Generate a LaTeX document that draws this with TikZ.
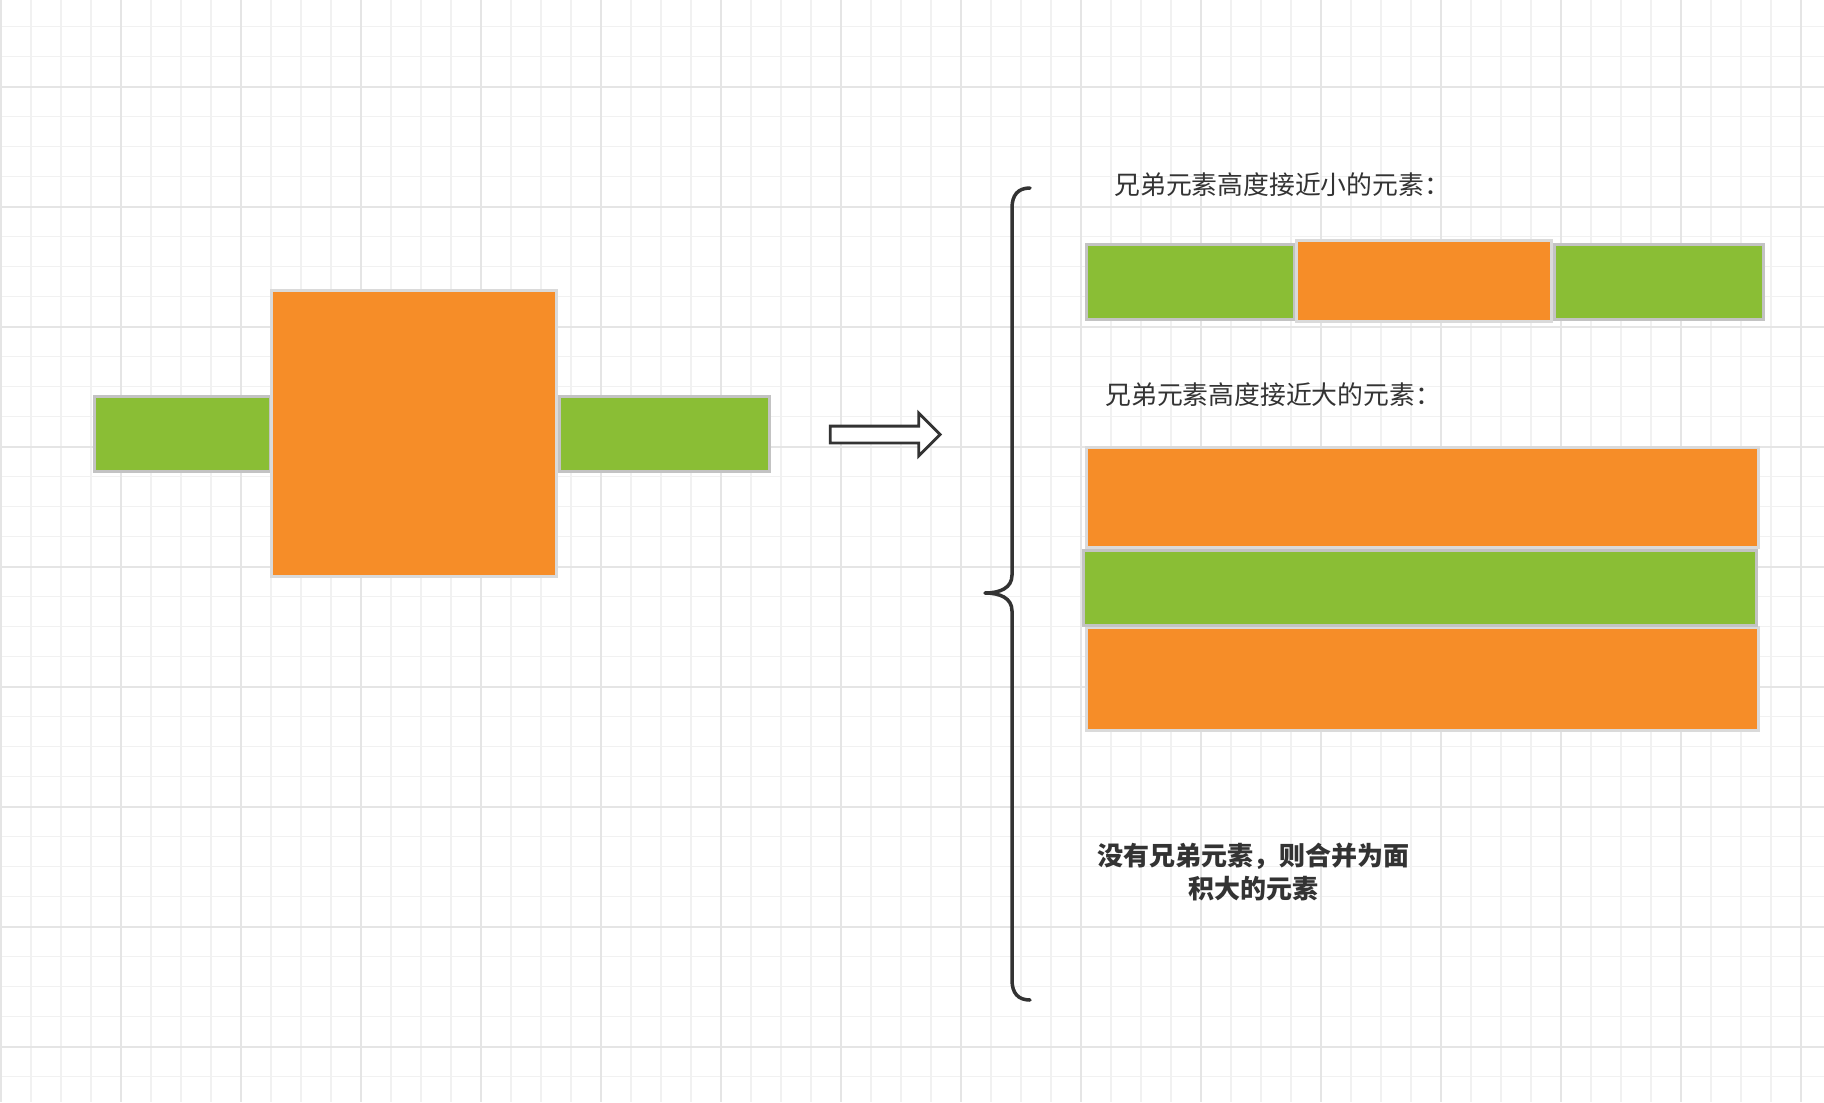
\documentclass[tikz,border=0pt]{standalone}
\usepackage{fontspec}
\usepackage{xcolor}
\usepackage{tikz}
\usetikzlibrary{shapes.arrows}
\newfontfamily\cjk{Noto Sans CJK SC}
\definecolor{gridsoft}{HTML}{F1F1F1}
\definecolor{gridmajor}{HTML}{E5E5E5}
\definecolor{leafgreen}{HTML}{8ABE35}
\definecolor{tangerine}{HTML}{F68D28}
\definecolor{rimlight}{HTML}{DADADA}
\definecolor{rimgreen}{HTML}{C3C3C3}
\definecolor{inkdark}{HTML}{333333}
\tikzset{
  txt/.style={font=\cjk\fontsize{14.7}{17.5}\selectfont, text=inkdark, inner sep=0pt},
  txtbold/.style={font=\cjk\bfseries\fontsize{14.8}{18.8}\selectfont, text=inkdark, inner sep=0pt, align=center},
  blk/.style 2 args={minimum width=#1*0.02cm, minimum height=#2*0.02cm, inner sep=0pt, line width=1.7pt},
  grn/.style={fill=leafgreen, draw=rimgreen},
  org/.style={fill=tangerine, draw=rimlight},
}

\begin{document}
\begin{tikzpicture}[x=0.02cm, y=-0.02cm,
  gline/.style={draw=gridsoft, line width=0.85pt},
  gmajor/.style={draw=gridmajor, line width=1.1pt},
  curly/.style={draw=inkdark, line width=2pt, line cap=round, line join=round}]
  \useasboundingbox[fill=white] (0,0) rectangle (1824,1102);
  \foreach \k in {0,...,60} { \draw[gline] ({1+30*\k},0) -- ({1+30*\k},1102); }
  \foreach \k in {0,...,36} { \draw[gline] (0,{26.7+30*\k}) -- (1824,{26.7+30*\k}); }
  \foreach \k in {0,...,15} { \draw[gmajor] ({1+120*\k},0) -- ({1+120*\k},1102); }
  \foreach \k in {0,...,8} { \draw[gmajor] (0,{86.7+120*\k}) -- (1824,{86.7+120*\k}); }
  \node[grn, blk={176}{75}] (sideL) at (182.5,434) {};
  \node[grn, blk={210}{75}] (sideR) at (664.5,434) {};
  \node[org, blk={285}{286}] (big) at (414,433.5) {};
  \node[single arrow, draw=inkdark, fill=white, line width=1.6pt, inner sep=0.14cm,
        minimum height=2.2cm, single arrow head extend=0.26cm] (arr) at (881,434.5) {};
  \draw[curly] (1030,188) .. controls (1018,188) and (1012,195) .. (1012,208) -- (1012,575)
    .. controls (1012,588) and (1000,593) .. (985,593)
    .. controls (1000,593) and (1012,598) .. (1012,611) -- (1012,980)
    .. controls (1012,993) and (1018,1000) .. (1030,1000);
  \node[txt, anchor=west] (smallnote) at (1114,185) {兄弟元素高度接近小的元素：};
  \foreach \n/\x/\w in {t1/1190.5/208, t3/1659/209} { \node[grn, blk={\w}{75}] (\n) at (\x,282) {}; }
  \node[org, blk={255}{81}] (t2) at (1424,281) {};
  \node[txt, anchor=west] (bignote) at (1105,395) {兄弟元素高度接近大的元素：};
  \foreach \n/\y/\h in {b1/497.5/100, b3/679/103} { \node[org, blk={672}{\h}] (\n) at (1422.5,\y) {}; }
  \node[grn, blk={673}{75}] (b2) at (1420,588) {};
  \node[txtbold] (merge) at (1253.5,872) {没有兄弟元素，则合并为面\\积大的元素};
\end{tikzpicture}
\end{document}
